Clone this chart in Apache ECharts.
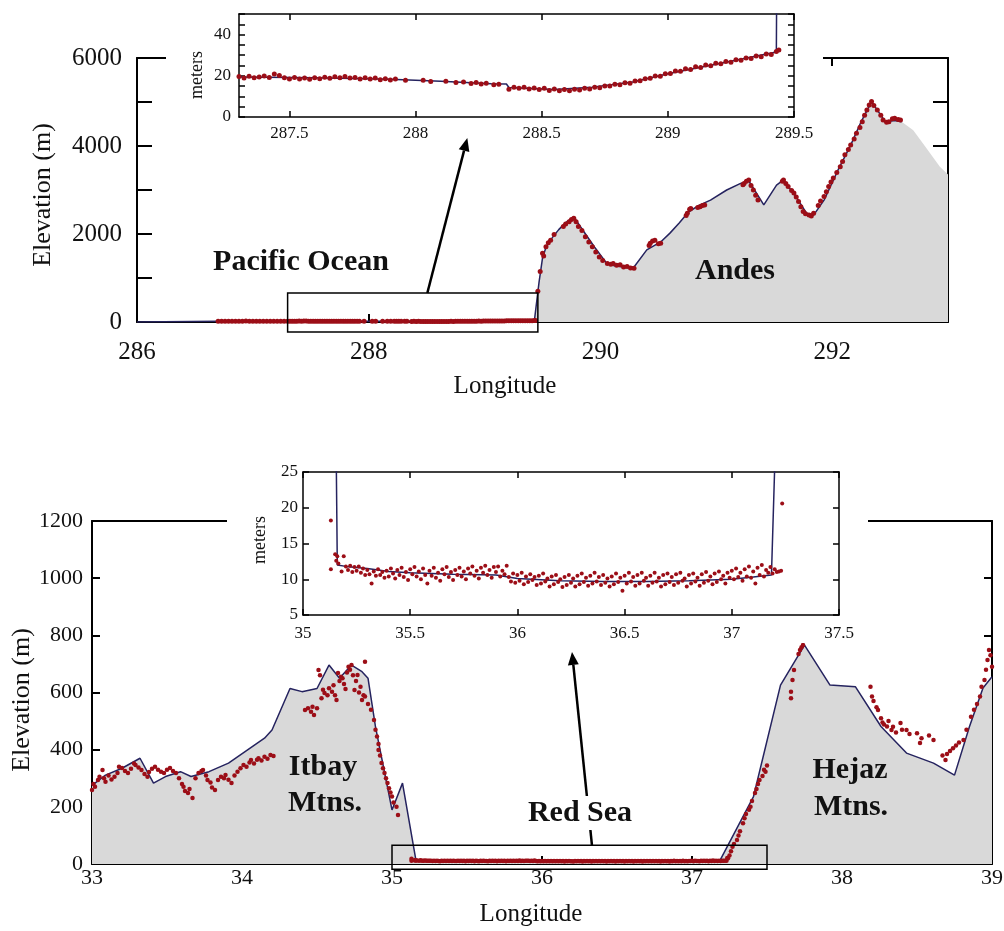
<!DOCTYPE html>
<html>
<head>
<meta charset="utf-8">
<script src="https://cdn.jsdelivr.net/npm/echarts@6/dist/echarts.min.js"></script>
<style>
html, body { margin: 0; padding: 0; background: #fff; }
#chart { width: 1004px; height: 931px; }
</style>
</head>
<body>
<div id="chart"></div>
<script>
// ---------- Andes transect (longitude, elevation m) ----------
const andesProfile = [
  [286.0, 0], [286.7, 19], [287.3, 19.4], [287.6, 19.0], [287.9, 18.3], [288.1, 17.3],
  [288.3, 16.2], [288.36, 16.0], [288.37, 14.3], [288.55, 13.3], [288.7, 14.5],
  [288.86, 17.0], [289.0, 21.0], [289.2, 25.8], [289.43, 31.6],
  [289.47, 900], [289.50, 1450], [289.53, 1700], [289.58, 1900], [289.64, 2100],
  [289.70, 2260], [289.77, 2390], [289.85, 2080], [289.95, 1700], [290.05, 1350],
  [290.12, 1280], [290.20, 1250], [290.29, 1250], [290.40, 1640], [290.52, 1820],
  [290.60, 2020], [290.68, 2250], [290.76, 2500], [290.85, 2650], [290.95, 2770],
  [291.09, 3000], [291.21, 3150], [291.28, 3210], [291.41, 2660], [291.52, 3110],
  [291.58, 3230], [291.70, 2800], [291.78, 2470], [291.84, 2430], [291.93, 2770],
  [292.05, 3450], [292.16, 4020], [292.25, 4550], [292.34, 5010], [292.46, 4550],
  [292.54, 4580], [292.60, 4550]
];
const andesFillTail = [[292.70, 4360], [292.80, 4000], [292.93, 3530], [293.0, 3350]];

// ship soundings west of the shelf break (main panel only)
const pacificShore = [
  [286.70, 18.5], [286.73, 19.4], [286.76, 19.0], [286.79, 19.8], [286.82, 19.2],
  [286.85, 18.7], [286.88, 19.5], [286.91, 19.1], [286.94, 19.9], [286.97, 19.3],
  [287.00, 18.8], [287.03, 19.6], [287.06, 19.0], [287.09, 19.7], [287.12, 19.2],
  [287.15, 18.9], [287.18, 19.6], [287.21, 19.1], [287.24, 19.8], [287.27, 19.3]
];

// sea-surface heights along the Pacific segment (meters)
const pacificShelf = [
  [287.30, 19.6], [287.32, 18.9], [287.34, 19.8], [287.36, 19.1], [287.38, 19.4],
  [287.40, 19.9], [287.42, 19.2], [287.44, 20.9], [287.46, 20.1], [287.48, 19.0],
  [287.50, 18.5], [287.52, 19.2], [287.54, 18.4], [287.56, 18.9], [287.58, 18.3],
  [287.60, 19.0], [287.62, 18.6], [287.64, 19.3], [287.66, 18.8], [287.68, 19.5],
  [287.70, 19.0], [287.72, 19.6], [287.74, 18.9], [287.76, 19.2], [287.78, 18.5],
  [287.80, 19.0], [287.82, 18.4], [287.84, 18.9], [287.86, 18.1], [287.88, 18.6],
  [287.90, 18.0], [287.92, 18.5], [287.96, 17.8], [288.03, 17.9], [288.06, 17.2],
  [288.12, 17.3], [288.16, 16.7], [288.19, 17.0], [288.22, 16.3], [288.24, 16.8],
  [288.26, 16.0], [288.28, 16.4], [288.31, 15.7], [288.33, 15.9], [288.37, 13.5],
  [288.39, 14.4], [288.41, 13.9], [288.43, 14.5], [288.45, 13.6], [288.47, 14.1],
  [288.49, 13.3], [288.51, 13.9], [288.53, 12.9], [288.55, 13.6], [288.57, 12.7],
  [288.59, 13.4], [288.61, 12.8], [288.63, 13.5], [288.65, 13.1], [288.67, 13.9],
  [288.69, 13.6], [288.71, 14.5], [288.73, 14.2], [288.75, 15.1], [288.77, 15.0],
  [288.79, 15.9], [288.81, 15.7], [288.83, 16.6], [288.85, 16.4], [288.87, 17.5],
  [288.89, 17.6], [288.91, 18.6], [288.93, 18.8], [288.95, 19.9], [288.97, 19.8],
  [288.99, 21.0], [289.01, 21.1], [289.03, 22.3], [289.05, 22.2], [289.07, 23.4],
  [289.09, 23.0], [289.11, 24.4], [289.13, 24.0], [289.15, 25.2], [289.17, 24.9],
  [289.19, 26.1], [289.21, 25.8], [289.23, 27.0], [289.25, 26.6], [289.27, 27.8],
  [289.29, 27.5], [289.31, 28.7], [289.33, 28.4], [289.35, 29.6], [289.37, 29.3],
  [289.39, 30.6], [289.41, 30.4], [289.43, 31.8], [289.44, 32.5]
];

const andesPoints = [
  [289.46, 700], [289.48, 1150], [289.50, 1560], [289.51, 1500], [289.53, 1710],
  [289.55, 1800], [289.57, 1860], [289.60, 1990], [289.68, 2170], [289.70, 2230],
  [289.73, 2280], [289.75, 2330], [289.77, 2360], [289.79, 2280], [289.81, 2170],
  [289.84, 2080], [289.87, 1940], [289.90, 1820], [289.93, 1710], [289.96, 1590],
  [289.99, 1480], [290.02, 1400], [290.06, 1330], [290.09, 1310], [290.11, 1330],
  [290.14, 1290], [290.17, 1300], [290.20, 1250], [290.23, 1260], [290.26, 1230],
  [290.29, 1220], [290.42, 1740], [290.43, 1790], [290.45, 1840], [290.47, 1860],
  [290.50, 1780], [290.52, 1790], [290.74, 2420], [290.75, 2470], [290.77, 2560],
  [290.78, 2580], [290.84, 2600], [290.86, 2620], [290.88, 2650], [290.90, 2660],
  [291.23, 3120], [291.24, 3150], [291.26, 3200], [291.28, 3230], [291.30, 3100],
  [291.32, 3000], [291.34, 2880], [291.36, 2770], [291.57, 3200], [291.58, 3230],
  [291.60, 3150], [291.62, 3080], [291.65, 2990], [291.67, 2930], [291.69, 2840],
  [291.71, 2740], [291.73, 2620], [291.75, 2510], [291.77, 2460], [291.80, 2430],
  [291.82, 2410], [291.84, 2470], [291.88, 2650], [291.90, 2750], [291.93, 2850],
  [291.95, 2960], [291.97, 3080], [291.99, 3180], [292.01, 3270], [292.04, 3400],
  [292.07, 3530], [292.09, 3650], [292.11, 3800], [292.14, 3920], [292.16, 4020],
  [292.19, 4160], [292.21, 4290], [292.24, 4420], [292.26, 4550], [292.28, 4700],
  [292.30, 4820], [292.32, 4930], [292.34, 5010], [292.36, 4920], [292.39, 4820],
  [292.42, 4700], [292.44, 4590], [292.47, 4540], [292.49, 4550], [292.52, 4620],
  [292.54, 4630], [292.57, 4600], [292.59, 4590]
];

// ---------- Red Sea transect (longitude, elevation m) ----------
const redSeaProfile = [
  [33.00, 275], [33.09, 311], [33.20, 335], [33.32, 370], [33.41, 283], [33.49, 306],
  [33.59, 323], [33.66, 306], [33.78, 323], [33.91, 353], [34.15, 440], [34.20, 469],
  [34.32, 614], [34.40, 603], [34.50, 614], [34.58, 696], [34.65, 650], [34.73, 696],
  [34.80, 673], [34.84, 650], [34.89, 480], [35.00, 189], [35.07, 283], [35.16, 12],
  [35.20, 11.8], [35.30, 11.5], [35.40, 11.1], [35.50, 10.9], [35.70, 10.7],
  [35.90, 10.6], [36.00, 10.1], [36.20, 9.8], [36.40, 9.7], [36.60, 9.7], [36.80, 9.8],
  [37.00, 10.0], [37.10, 10.3], [37.185, 10.6], [37.41, 236], [37.59, 626],
  [37.75, 766], [37.92, 626], [38.09, 620], [38.26, 481], [38.43, 388], [38.61, 353],
  [38.75, 311], [38.85, 481], [38.94, 616], [39.00, 655]
];

const itbayPoints = [
  [33.00, 259], [33.01, 280], [33.02, 270], [33.04, 294], [33.05, 305], [33.07, 329],
  [33.08, 300], [33.09, 288], [33.11, 310], [33.13, 296], [33.15, 305], [33.17, 318],
  [33.18, 340], [33.20, 336], [33.22, 325], [33.24, 318], [33.26, 333], [33.28, 352],
  [33.29, 346], [33.31, 338], [33.33, 329], [33.35, 315], [33.37, 305], [33.38, 322],
  [33.40, 333], [33.42, 340], [33.44, 330], [33.46, 323], [33.48, 318], [33.50, 330],
  [33.52, 336], [33.54, 325], [33.56, 318], [33.58, 300], [33.60, 280], [33.61, 270],
  [33.62, 255], [33.64, 248], [33.65, 262], [33.67, 231], [33.69, 300], [33.71, 318],
  [33.73, 325], [33.74, 329], [33.76, 310], [33.77, 294], [33.79, 285], [33.80, 268],
  [33.82, 259], [33.84, 294], [33.86, 305], [33.88, 300], [33.89, 311], [33.91, 295],
  [33.93, 283], [33.95, 310], [33.97, 323], [33.99, 335], [34.01, 346], [34.03, 340],
  [34.05, 355], [34.06, 364], [34.08, 352], [34.10, 365], [34.11, 370], [34.13, 362],
  [34.15, 375], [34.17, 368], [34.19, 381], [34.21, 378],
  [34.42, 539], [34.44, 545], [34.46, 533], [34.47, 550], [34.48, 521], [34.50, 545],
  [34.51, 679], [34.52, 660], [34.53, 580], [34.54, 610], [34.55, 598], [34.57, 590],
  [34.58, 615], [34.60, 603], [34.61, 625], [34.62, 590], [34.63, 574], [34.64, 668],
  [34.65, 640], [34.66, 655], [34.67, 650], [34.68, 630], [34.69, 612], [34.70, 670],
  [34.71, 690], [34.72, 680], [34.73, 696], [34.74, 660], [34.75, 609], [34.76, 640],
  [34.77, 661], [34.78, 600], [34.79, 620], [34.80, 574], [34.81, 590], [34.82, 708],
  [34.82, 586], [34.84, 560], [34.86, 540], [34.88, 504], [34.89, 470], [34.90, 446],
  [34.91, 420], [34.91, 399], [34.92, 380], [34.93, 353], [34.94, 335], [34.95, 318],
  [34.96, 300], [34.97, 283], [34.98, 265], [34.99, 250], [35.00, 236], [35.01, 215],
  [35.03, 200], [35.04, 171]
];

// sea-surface heights along the Red Sea segment (meters)
const redSeaShelf = [
  [35.13, 18.2], [35.13, 11.4], [35.15, 13.5], [35.155, 12.6], [35.16, 13.2], [35.165, 12.2],
  [35.18, 11.1], [35.19, 13.2], [35.20, 11.8], [35.21, 11.3], [35.22, 11.9], [35.23, 11.0],
  [35.24, 11.7], [35.25, 11.2], [35.26, 11.8], [35.27, 10.9], [35.28, 11.5], [35.29, 10.6],
  [35.30, 11.3], [35.31, 10.7], [35.32, 9.4], [35.33, 11.1], [35.34, 10.5], [35.35, 11.4],
  [35.36, 10.6], [35.37, 11.0], [35.38, 10.2], [35.39, 11.2], [35.40, 10.4], [35.41, 11.5],
  [35.42, 10.8], [35.43, 10.1], [35.44, 11.3], [35.45, 10.6], [35.46, 11.6], [35.47, 10.3],
  [35.48, 11.0], [35.49, 9.9], [35.50, 11.4], [35.51, 10.7], [35.52, 11.7], [35.53, 10.4],
  [35.54, 11.1], [35.55, 10.0], [35.56, 11.5], [35.57, 10.6], [35.58, 9.4], [35.59, 11.2],
  [35.60, 10.5], [35.61, 11.6], [35.62, 10.2], [35.63, 10.9], [35.64, 9.8], [35.65, 11.4],
  [35.66, 10.7], [35.67, 11.7], [35.68, 10.3], [35.69, 11.0], [35.70, 9.9], [35.71, 11.3],
  [35.72, 10.6], [35.73, 11.6], [35.74, 10.4], [35.75, 11.1], [35.76, 10.0], [35.77, 11.5],
  [35.78, 10.8], [35.79, 11.8], [35.80, 10.5], [35.81, 11.2], [35.82, 10.1], [35.83, 11.6],
  [35.84, 10.9], [35.85, 11.9], [35.86, 10.6], [35.87, 11.3], [35.88, 10.2], [35.89, 11.7],
  [35.90, 11.0], [35.91, 11.8], [35.92, 10.4], [35.93, 11.2], [35.94, 10.7], [35.95, 11.9],
  [35.96, 10.3], [35.97, 9.7], [35.98, 10.8], [35.99, 9.5], [36.00, 10.6], [36.01, 9.8],
  [36.02, 10.9], [36.03, 9.3], [36.04, 10.4], [36.05, 9.6], [36.06, 10.7], [36.07, 9.9],
  [36.08, 10.3], [36.09, 9.2], [36.10, 10.5], [36.11, 9.4], [36.12, 10.8], [36.13, 9.7],
  [36.14, 10.1], [36.15, 9.0], [36.16, 10.4], [36.17, 9.3], [36.18, 10.6], [36.19, 9.6],
  [36.20, 10.0], [36.21, 8.9], [36.22, 10.3], [36.23, 9.2], [36.24, 10.6], [36.25, 9.5],
  [36.26, 10.1], [36.27, 9.0], [36.28, 10.5], [36.29, 9.3], [36.30, 10.8], [36.31, 9.6],
  [36.32, 10.2], [36.33, 9.1], [36.34, 10.5], [36.35, 9.4], [36.36, 10.9], [36.37, 9.7],
  [36.38, 10.3], [36.39, 9.2], [36.40, 10.6], [36.41, 9.5], [36.42, 10.1], [36.43, 9.0],
  [36.44, 10.4], [36.45, 9.3], [36.46, 10.8], [36.47, 9.6], [36.48, 10.2], [36.49, 8.4],
  [36.50, 10.5], [36.51, 9.4], [36.52, 10.9], [36.53, 9.7], [36.54, 10.3], [36.55, 9.1],
  [36.56, 10.6], [36.57, 9.4], [36.58, 10.9], [36.59, 9.8], [36.60, 10.2], [36.61, 9.1],
  [36.62, 10.5], [36.63, 9.5], [36.64, 10.9], [36.65, 9.7], [36.66, 10.2], [36.67, 9.0],
  [36.68, 10.6], [36.69, 9.3], [36.70, 10.8], [36.71, 9.6], [36.72, 10.3], [36.73, 9.2],
  [36.74, 10.7], [36.75, 9.5], [36.76, 10.9], [36.77, 9.8], [36.78, 10.1], [36.79, 9.0],
  [36.80, 10.6], [36.81, 9.4], [36.82, 10.8], [36.83, 9.7], [36.84, 10.2], [36.85, 9.1],
  [36.86, 10.7], [36.87, 9.5], [36.88, 11.0], [36.89, 9.8], [36.90, 10.4], [36.91, 9.3],
  [36.92, 10.8], [36.93, 9.6], [36.94, 11.1], [36.95, 10.0], [36.96, 10.5], [36.97, 9.4],
  [36.98, 10.9], [36.99, 10.2], [37.00, 11.2], [37.01, 10.0], [37.02, 11.5], [37.03, 10.3],
  [37.04, 10.9], [37.05, 9.8], [37.06, 11.4], [37.07, 10.4], [37.08, 11.8], [37.09, 10.2],
  [37.10, 11.1], [37.11, 9.4], [37.12, 11.6], [37.13, 10.6], [37.14, 12.0], [37.15, 10.4],
  [37.16, 11.3], [37.17, 10.9], [37.18, 11.7], [37.19, 10.8], [37.20, 11.4], [37.21, 11.0],
  [37.22, 11.1], [37.23, 11.2], [37.235, 20.6]
];

const hejazPoints = [
  [37.24, 20], [37.25, 30], [37.26, 45], [37.27, 60], [37.28, 70], [37.30, 84],
  [37.31, 100], [37.32, 115], [37.34, 143], [37.35, 160], [37.36, 175], [37.38, 190],
  [37.39, 200], [37.40, 220], [37.42, 248], [37.43, 262], [37.44, 280], [37.45, 294],
  [37.47, 308], [37.48, 330], [37.49, 323], [37.50, 345],
  [37.66, 603], [37.66, 580], [37.67, 644], [37.68, 679], [37.71, 735], [37.72, 749],
  [37.73, 758], [37.74, 766],
  [38.19, 620], [38.20, 586], [38.21, 570], [38.23, 548], [38.24, 539], [38.26, 510],
  [38.27, 495], [38.28, 488], [38.30, 481], [38.31, 500], [38.33, 469], [38.34, 480],
  [38.36, 460], [38.39, 493], [38.40, 470], [38.43, 469], [38.45, 455], [38.50, 457],
  [38.52, 423], [38.53, 440], [38.58, 450], [38.61, 434], [38.67, 380], [38.69, 364],
  [38.70, 385], [38.72, 395], [38.74, 405], [38.76, 415], [38.78, 425], [38.81, 434],
  [38.83, 470], [38.86, 515], [38.88, 540], [38.90, 560], [38.92, 586], [38.93, 620],
  [38.95, 644], [38.96, 680], [38.97, 714], [38.98, 749], [38.99, 730], [39.00, 690]
];

// ---------- tick positions ----------
const andesLonTicks = [286, 288, 290, 292];
const andesElevTicks = [0, 1000, 2000, 3000, 4000, 5000, 6000];
const andesElevLabels = [0, 2000, 4000, 6000];
const pacificLonTicks = [287.5, 288, 288.5, 289, 289.5];
const pacificHeightTicks = [0, 5, 10, 15, 20, 25, 30, 35, 40, 45, 50];
const pacificHeightLabels = [0, 20, 40];
const redSeaLonTicks = [33, 34, 35, 36, 37, 38, 39];
const redSeaElevTicks = [0, 200, 400, 600, 800, 1000, 1200];
const redSeaInsetLonTicks = [35, 35.5, 36, 36.5, 37, 37.5];
const redSeaHeightTicks = [5, 10, 15, 20, 25];

// ---------- styling ----------
const SERIF = '"Liberation Serif", "Times New Roman", serif';
const RED = '#9c0e17';
const NAVY = '#25235f';
const GRAY = '#d9d9d9';
const INK = '#111';

const fmt = v => String(Math.round(v * 100) / 100);

function axis(o) {
  return {
    type: 'value',
    gridIndex: o.grid,
    position: o.position,
    min: o.min,
    max: o.max,
    z: o.z || 0,
    axisLine: { show: true, onZero: false, lineStyle: { color: '#000', width: o.lineWidth || 2 } },
    axisTick: {
      show: true, inside: true, length: o.tickLen || 8,
      customValues: o.ticks,
      lineStyle: { color: '#000', width: o.lineWidth || 2 }
    },
    axisLabel: {
      show: !!o.labels,
      customValues: o.labels || o.ticks,
      formatter: fmt,
      fontFamily: SERIF,
      fontSize: o.fontSize || 20,
      color: INK,
      margin: o.margin || 8
    },
    splitLine: { show: false },
    minorTick: { show: false }
  };
}

const xAxes = [
  // 0,1: Andes panel
  axis({ grid: 0, position: 'bottom', min: 286, max: 293, ticks: andesLonTicks, labels: andesLonTicks, fontSize: 25, margin: 18, tickLen: 8 }),
  axis({ grid: 0, position: 'top', min: 286, max: 293, ticks: andesLonTicks, tickLen: 8 }),
  // 2,3: Pacific inset
  axis({ grid: 1, position: 'bottom', min: 287.3, max: 289.5, ticks: pacificLonTicks, labels: pacificLonTicks, fontSize: 17, margin: 8, tickLen: 6, lineWidth: 1.5, z: 10 }),
  axis({ grid: 1, position: 'top', min: 287.3, max: 289.5, ticks: pacificLonTicks, tickLen: 6, lineWidth: 1.5, z: 10 }),
  // 4,5: Red Sea panel
  axis({ grid: 2, position: 'bottom', min: 33, max: 39, ticks: redSeaLonTicks, labels: redSeaLonTicks, fontSize: 22, margin: 3, tickLen: 8 }),
  axis({ grid: 2, position: 'top', min: 33, max: 39, ticks: redSeaLonTicks, tickLen: 8 }),
  // 6,7: Red Sea inset
  axis({ grid: 3, position: 'bottom', min: 35, max: 37.5, ticks: redSeaInsetLonTicks, labels: redSeaInsetLonTicks, fontSize: 17, margin: 10, tickLen: 6, lineWidth: 1.5, z: 10 }),
  axis({ grid: 3, position: 'top', min: 35, max: 37.5, ticks: redSeaInsetLonTicks, tickLen: 6, lineWidth: 1.5, z: 10 })
];

const yAxes = [
  axis({ grid: 0, position: 'left', min: 0, max: 6000, ticks: andesElevTicks, labels: andesElevLabels, fontSize: 25, margin: 15, tickLen: 15 }),
  axis({ grid: 0, position: 'right', min: 0, max: 6000, ticks: andesElevTicks, tickLen: 15 }),
  axis({ grid: 1, position: 'left', min: 0, max: 50, ticks: pacificHeightTicks, labels: pacificHeightLabels, fontSize: 17, margin: 8, tickLen: 6, lineWidth: 1.5, z: 10 }),
  axis({ grid: 1, position: 'right', min: 0, max: 50, ticks: pacificHeightTicks, tickLen: 6, lineWidth: 1.5, z: 10 }),
  axis({ grid: 2, position: 'left', min: 0, max: 1200, ticks: redSeaElevTicks, labels: redSeaElevTicks, fontSize: 22, margin: 9, tickLen: 8 }),
  axis({ grid: 2, position: 'right', min: 0, max: 1200, ticks: redSeaElevTicks, tickLen: 8 }),
  axis({ grid: 3, position: 'left', min: 5, max: 25, ticks: redSeaHeightTicks, labels: redSeaHeightTicks, fontSize: 17, margin: 5, tickLen: 6, lineWidth: 1.5, z: 10 }),
  axis({ grid: 3, position: 'right', min: 5, max: 25, ticks: redSeaHeightTicks, tickLen: 6, lineWidth: 1.5, z: 10 })
];

const gridBase = { show: false, containLabel: false, outerBoundsMode: 'none' };
const grids = [
  Object.assign({ left: 137, top: 58, width: 811, height: 264 }, gridBase),
  Object.assign({ left: 239, top: 14, width: 555, height: 103 }, gridBase),
  Object.assign({ left: 92, top: 521, width: 900, height: 343 }, gridBase),
  Object.assign({ left: 303, top: 472, width: 536, height: 143 }, gridBase)
];

function fillSeries(xi, data) {
  return {
    type: 'line', xAxisIndex: xi, yAxisIndex: xi, data: data,
    symbol: 'none', showSymbol: false, silent: true, z: 1,
    lineStyle: { width: 0, opacity: 0 },
    areaStyle: { color: GRAY, opacity: 1 }
  };
}
function profileSeries(xi, data, z) {
  return {
    type: 'line', xAxisIndex: xi, yAxisIndex: xi, data: data,
    symbol: 'none', showSymbol: false, silent: true, z: z, clip: true,
    lineStyle: { color: NAVY, width: 1.5 }
  };
}
function pointSeries(xi, data, z, size) {
  return {
    type: 'scatter', xAxisIndex: xi, yAxisIndex: xi, data: data,
    symbol: 'circle', symbolSize: size, silent: true, z: z, clip: true,
    itemStyle: { color: RED, opacity: 1 }
  };
}

const chart = echarts.init(document.getElementById('chart'), null, { renderer: 'canvas' });
chart.setOption({
  animation: false,
  backgroundColor: '#fff',
  grid: grids,
  xAxis: xAxes,
  yAxis: yAxes,
  series: [
    fillSeries(0, andesProfile.concat(andesFillTail)),
    profileSeries(0, andesProfile, 2),
    pointSeries(0, pacificShore.concat(pacificShelf, andesPoints), 3, 5),
    profileSeries(2, andesProfile, 11),
    pointSeries(2, pacificShelf, 12, 5),
    fillSeries(4, redSeaProfile),
    profileSeries(4, redSeaProfile, 2),
    pointSeries(4, itbayPoints.concat(redSeaShelf, hejazPoints), 3, 4.5),
    profileSeries(6, redSeaProfile, 11),
    pointSeries(6, redSeaShelf, 12, 4)
  ]
});

// ---------- annotations ----------
const px = (i, pt) => chart.convertToPixel({ xAxisIndex: i, yAxisIndex: i }, pt);

function text(str, x, y, size, bold, rot, bg) {
  const style = {
    text: str, font: (bold ? 'bold ' : '') + size + 'px ' + SERIF, fill: INK,
    textAlign: 'center', textVerticalAlign: 'middle', align: 'center', verticalAlign: 'middle'
  };
  if (bg) { style.backgroundColor = '#fff'; style.padding = [2, 4]; }
  return { type: 'text', x: x, y: y, rotation: rot || 0, z: 22, style: style };
}
function box(i, a, b) {
  const p1 = px(i, a), p2 = px(i, b);
  return {
    type: 'rect', z: 20,
    shape: { x: Math.min(p1[0], p2[0]), y: Math.min(p1[1], p2[1]), width: Math.abs(p2[0] - p1[0]), height: Math.abs(p2[1] - p1[1]) },
    style: { fill: 'none', stroke: '#000', lineWidth: 1.5 }
  };
}
function arrow(i, from, to, width, head) {
  const a = px(i, from), b = px(i, to);
  const dx = b[0] - a[0], dy = b[1] - a[1], len = Math.hypot(dx, dy);
  const ux = dx / len, uy = dy / len;
  const base = [b[0] - ux * head, b[1] - uy * head];
  const hw = head * 0.42;
  return [
    { type: 'line', z: 20, shape: { x1: a[0], y1: a[1], x2: base[0], y2: base[1] }, style: { stroke: '#000', lineWidth: width } },
    { type: 'polygon', z: 20, shape: { points: [b, [base[0] - uy * hw, base[1] + ux * hw], [base[0] + uy * hw, base[1] - ux * hw]] }, style: { fill: '#000' } }
  ];
}

const elements = [
  // white panels behind the insets
  { type: 'rect', z: 5, shape: { x: 166, y: 0, width: 657, height: 146 }, style: { fill: '#fff' } },
  { type: 'rect', z: 5, shape: { x: 227, y: 455, width: 641, height: 188 }, style: { fill: '#fff' } },
  box(0, [287.3, 660], [289.46, -230]),
  box(4, [35.0, 66], [37.5, -18])
].concat(
  arrow(0, [288.506, 660], [288.851, 4180], 2.5, 13),
  arrow(4, [36.333, 66], [36.2, 742], 2.5, 13),
  [
    text('Elevation (m)', 43, 195, 26, false, Math.PI / 2),
    text('Longitude', 505, 386, 25, false),
    text('meters', 197, 75, 18, false, Math.PI / 2),
    text('Pacific Ocean', 301, 262, 30, true),
    text('Andes', 735, 271, 30, true),
    text('Elevation (m)', 22, 700, 26, false, Math.PI / 2),
    text('Longitude', 531, 914, 25, false),
    text('meters', 260, 540, 18, false, Math.PI / 2),
    text('Itbay', 323, 767, 30, true),
    text('Mtns.', 325, 803, 30, true),
    text('Hejaz', 850, 770, 30, true),
    text('Mtns.', 851, 807, 30, true),
    text('Red Sea', 580, 813, 30, true, 0, true)
  ]
);
chart.setOption({ graphic: { elements: elements } });
</script>
</body>
</html>
